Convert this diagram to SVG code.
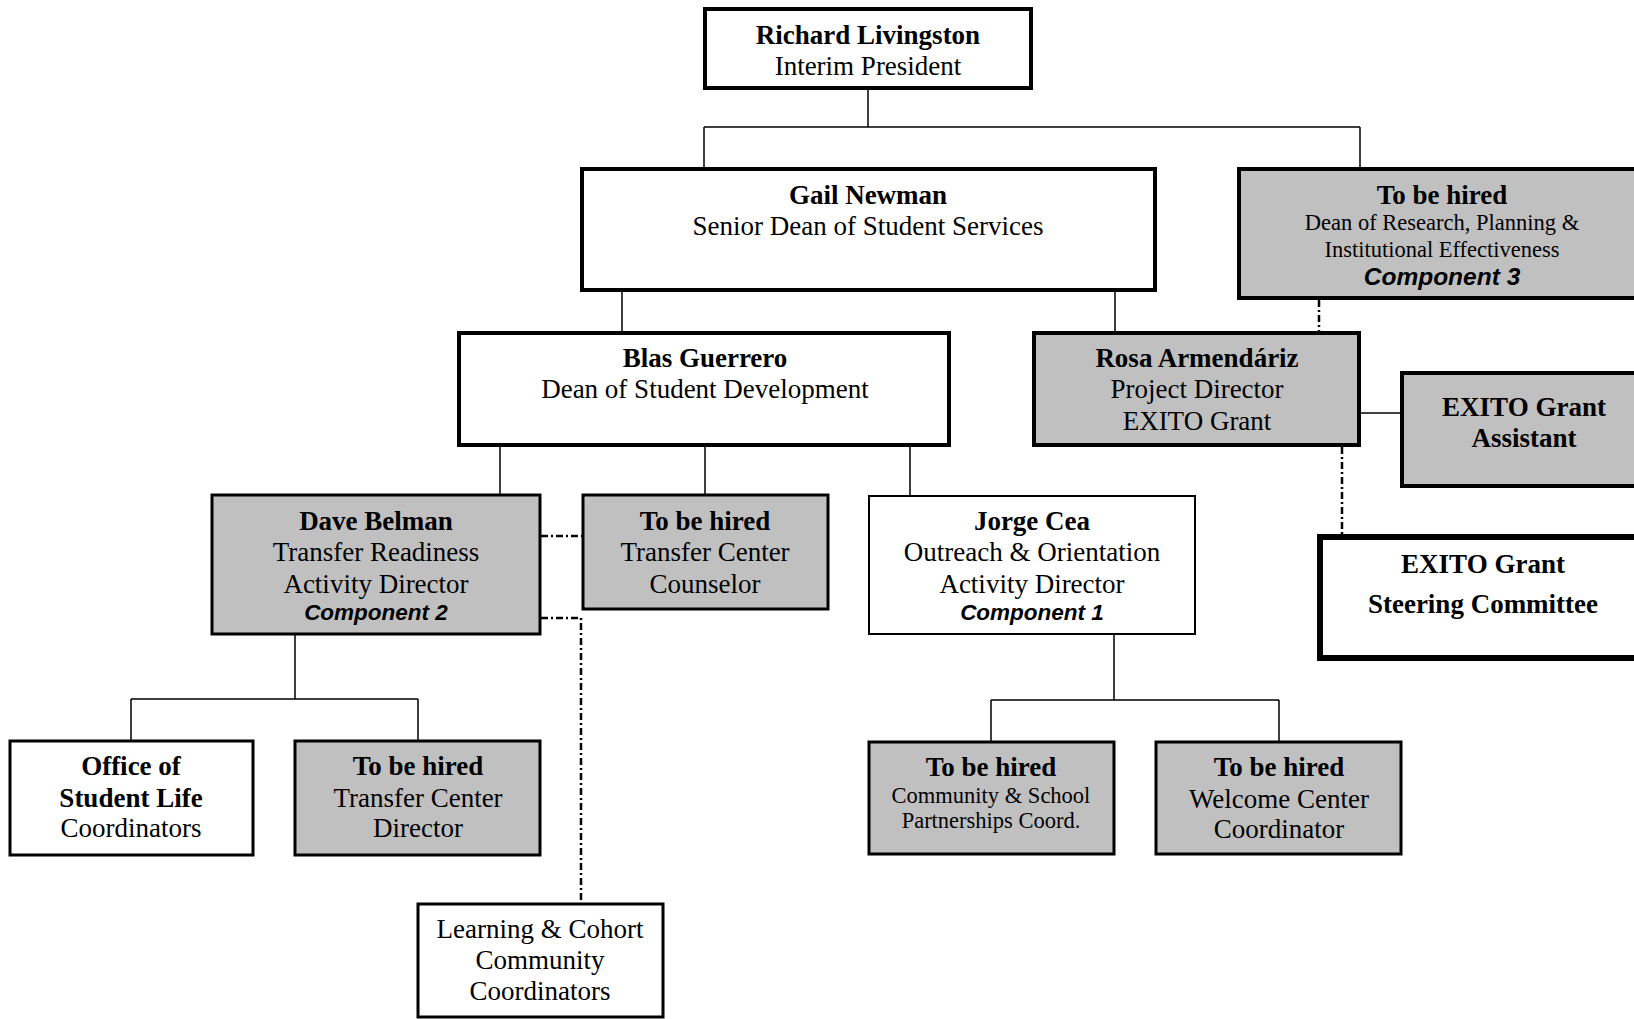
<svg xmlns="http://www.w3.org/2000/svg" width="1634" height="1019" viewBox="0 0 1634 1019">
<style>
.box{fill:#fff;stroke:#000;stroke-width:4}
.gray{fill:#c0c0c0}
.thin{stroke-width:2}
.mid{stroke-width:3}
.heavy{stroke-width:6}
text{font-family:"Liberation Serif","Times New Roman",serif;font-size:27px;text-anchor:middle;fill:#000}
.b{font-weight:bold}
.s{font-size:22.5px}
.c{font-family:"Liberation Sans",Arial,sans-serif;font-weight:bold;font-style:italic;font-size:22.5px}
.c3{font-size:24.5px}
.ln{fill:none;stroke:#000;stroke-width:1.5}
.dd{fill:none;stroke:#000;stroke-width:2.5;stroke-dasharray:7 3 2 3}
</style>
<rect width="1634" height="1019" fill="#fff"/>
<g id="connectors">
<path class="ln" d="M868,90V127M704,127H1360M704,127V167M1360,127V167"/>
<path class="ln" d="M622,292V331M1115,292V331"/>
<path class="ln" d="M1361,413H1400"/>
<path class="ln" d="M500,447V494M705,447V494M910,447V495"/>
<path class="ln" d="M295,635V699M131,699H418M131,699V740M418,699V740"/>
<path class="ln" d="M1114,635V700M991,700H1279M991,700V741M1279,700V741"/>
<path class="dd" d="M1319,300V331"/>
<path class="dd" d="M1342,447V534"/>
<path class="dd" d="M541,536H582"/>
<path class="dd" d="M541,618H581V903"/>
</g>
<g id="richard">
<rect class="box" x="705" y="9" width="326" height="79"/>
<text class="b" x="868" y="44">Richard Livingston</text>
<text x="868" y="75">Interim President</text>
</g>
<g id="gail">
<rect class="box" x="582" y="169" width="573" height="121"/>
<text class="b" x="868" y="204">Gail Newman</text>
<text x="868" y="235">Senior Dean of Student Services</text>
</g>
<g id="dean-research">
<rect class="box gray" x="1239" y="169" width="420" height="129"/>
<text class="b" x="1442" y="204">To be hired</text>
<text class="s" x="1442" y="230">Dean of Research, Planning &amp;</text>
<text class="s" x="1442" y="257">Institutional Effectiveness</text>
<text class="c c3" x="1442" y="285">Component 3</text>
</g>
<g id="blas">
<rect class="box" x="459" y="333" width="490" height="112"/>
<text class="b" x="705" y="367">Blas Guerrero</text>
<text x="705" y="398">Dean of Student Development</text>
</g>
<g id="rosa">
<rect class="box gray" x="1034" y="333" width="325" height="112"/>
<text class="b" x="1197" y="367">Rosa Armendáriz</text>
<text x="1197" y="398">Project Director</text>
<text x="1197" y="430">EXITO Grant</text>
</g>
<g id="assistant">
<rect class="box gray" x="1402" y="373" width="260" height="113"/>
<text class="b" x="1524" y="416">EXITO Grant</text>
<text class="b" x="1524" y="447">Assistant</text>
</g>
<g id="steering">
<rect class="box heavy" x="1320" y="537" width="340" height="121"/>
<text class="b" x="1483" y="573">EXITO Grant</text>
<text class="b" x="1483" y="613">Steering Committee</text>
</g>
<g id="dave">
<rect class="box gray mid" x="212" y="495" width="328" height="139"/>
<text class="b" x="376" y="530">Dave Belman</text>
<text x="376" y="561">Transfer Readiness</text>
<text x="376" y="593">Activity Director</text>
<text class="c" x="376" y="620">Component 2</text>
</g>
<g id="counselor">
<rect class="box gray mid" x="583" y="495" width="245" height="114"/>
<text class="b" x="705" y="530">To be hired</text>
<text x="705" y="561">Transfer Center</text>
<text x="705" y="593">Counselor</text>
</g>
<g id="jorge">
<rect class="box thin" x="869" y="496" width="326" height="138"/>
<text class="b" x="1032" y="530">Jorge Cea</text>
<text x="1032" y="561">Outreach &amp; Orientation</text>
<text x="1032" y="593">Activity Director</text>
<text class="c" x="1032" y="620">Component 1</text>
</g>
<g id="office">
<rect class="box mid" x="10" y="741" width="243" height="114"/>
<text class="b" x="131" y="775">Office of</text>
<text class="b" x="131" y="807">Student Life</text>
<text x="131" y="837">Coordinators</text>
</g>
<g id="tc-director">
<rect class="box gray mid" x="295" y="741" width="245" height="114"/>
<text class="b" x="418" y="775">To be hired</text>
<text x="418" y="807">Transfer Center</text>
<text x="418" y="837">Director</text>
</g>
<g id="learning">
<rect class="box mid" x="418" y="904" width="245" height="113"/>
<text x="540" y="938">Learning &amp; Cohort</text>
<text x="540" y="969">Community</text>
<text x="540" y="1000">Coordinators</text>
</g>
<g id="community">
<rect class="box gray mid" x="869" y="742" width="245" height="112"/>
<text class="b" x="991" y="776">To be hired</text>
<text class="s" x="991" y="803">Community &amp; School</text>
<text class="s" x="991" y="828">Partnerships Coord.</text>
</g>
<g id="welcome">
<rect class="box gray mid" x="1156" y="742" width="245" height="112"/>
<text class="b" x="1279" y="776">To be hired</text>
<text x="1279" y="808">Welcome Center</text>
<text x="1279" y="838">Coordinator</text>
</g>
</svg>
